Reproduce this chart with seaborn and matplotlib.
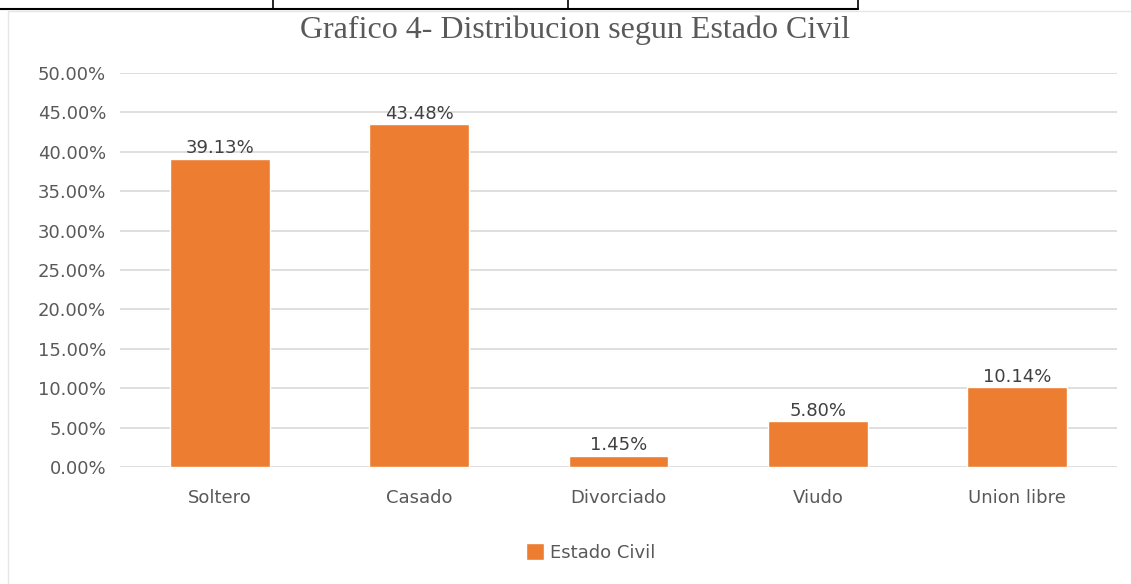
import numpy as np
import pandas as pd
import seaborn as sns
import matplotlib.pyplot as plt
from matplotlib.lines import Line2D
from matplotlib.patches import Patch
from matplotlib.ticker import PercentFormatter

# datos del grafico
categorias = ["Soltero", "Casado", "Divorciado", "Viudo", "Union libre"]
porcentajes = [39.13, 43.48, 1.45, 5.80, 10.14]
serie = "Estado Civil"
titulo = "Grafico 4- Distribucion segun Estado Civil"

NARANJA = "#ED7D31"
GRIS_TXT = "#595959"

df = pd.DataFrame({"Estado": categorias, "Porcentaje": porcentajes})

sns.set_theme(style="white")
plt.rcParams["font.family"] = ["DejaVu Sans"]

fig = plt.figure(figsize=(11.31, 5.84), dpi=100)
ax = fig.add_axes([0.1061, 0.2003, 0.8815, 0.6747])

sns.barplot(data=df, x="Estado", y="Porcentaje", color=NARANJA, width=0.5,
            saturation=1, ax=ax)

ax.set_ylim(0, 50)
ax.set_yticks(np.arange(0, 50.1, 5))
ax.yaxis.set_major_formatter(PercentFormatter(decimals=2))
ax.grid(axis="y", color="#D9D9D9", linewidth=1.2)
ax.set_axisbelow(True)
for s in ax.spines.values():
    s.set_visible(False)
ax.set_xlabel("")
ax.set_ylabel("")
ax.tick_params(axis="both", length=0, labelsize=13, labelcolor=GRIS_TXT)
ax.tick_params(axis="x", pad=16)
ax.tick_params(axis="y", pad=10)

# etiquetas de datos
for p, v in zip(ax.patches, porcentajes):
    ax.annotate(f"{v:.2f}%", (p.get_x() + p.get_width() / 2, p.get_height()),
                xytext=(0, 1), textcoords="offset points", ha="center", va="bottom",
                fontsize=13, color="#404040")

fig.text(0.508, 0.948, titulo, ha="center", va="center", fontsize=23,
         color="#595959", family=["Liberation Serif", "DejaVu Serif"])

leg = fig.legend(handles=[Patch(facecolor=NARANJA, label=serie)], loc="center",
                 bbox_to_anchor=(0.522, 0.054), frameon=False, fontsize=13,
                 handlelength=1.05, handleheight=1.05, handletextpad=0.3)
for t in leg.get_texts():
    t.set_color(GRIS_TXT)

# bordes del documento (tabla recortada arriba y marco del grafico)
fig.add_artist(Line2D([0, 858 / 1131], [1 - 9 / 584] * 2, color="black", lw=1.5))
for xv in [273, 568, 858]:
    fig.add_artist(Line2D([xv / 1131] * 2, [1, 1 - 9 / 584], color="black", lw=1.2))
fig.add_artist(Line2D([8 / 1131, 1], [1 - 11 / 584] * 2, color="#E6E6E6", lw=1))
fig.add_artist(Line2D([8 / 1131] * 2, [0, 1 - 11 / 584], color="#E6E6E6", lw=1))

fig.savefig("out.png", dpi=100)
